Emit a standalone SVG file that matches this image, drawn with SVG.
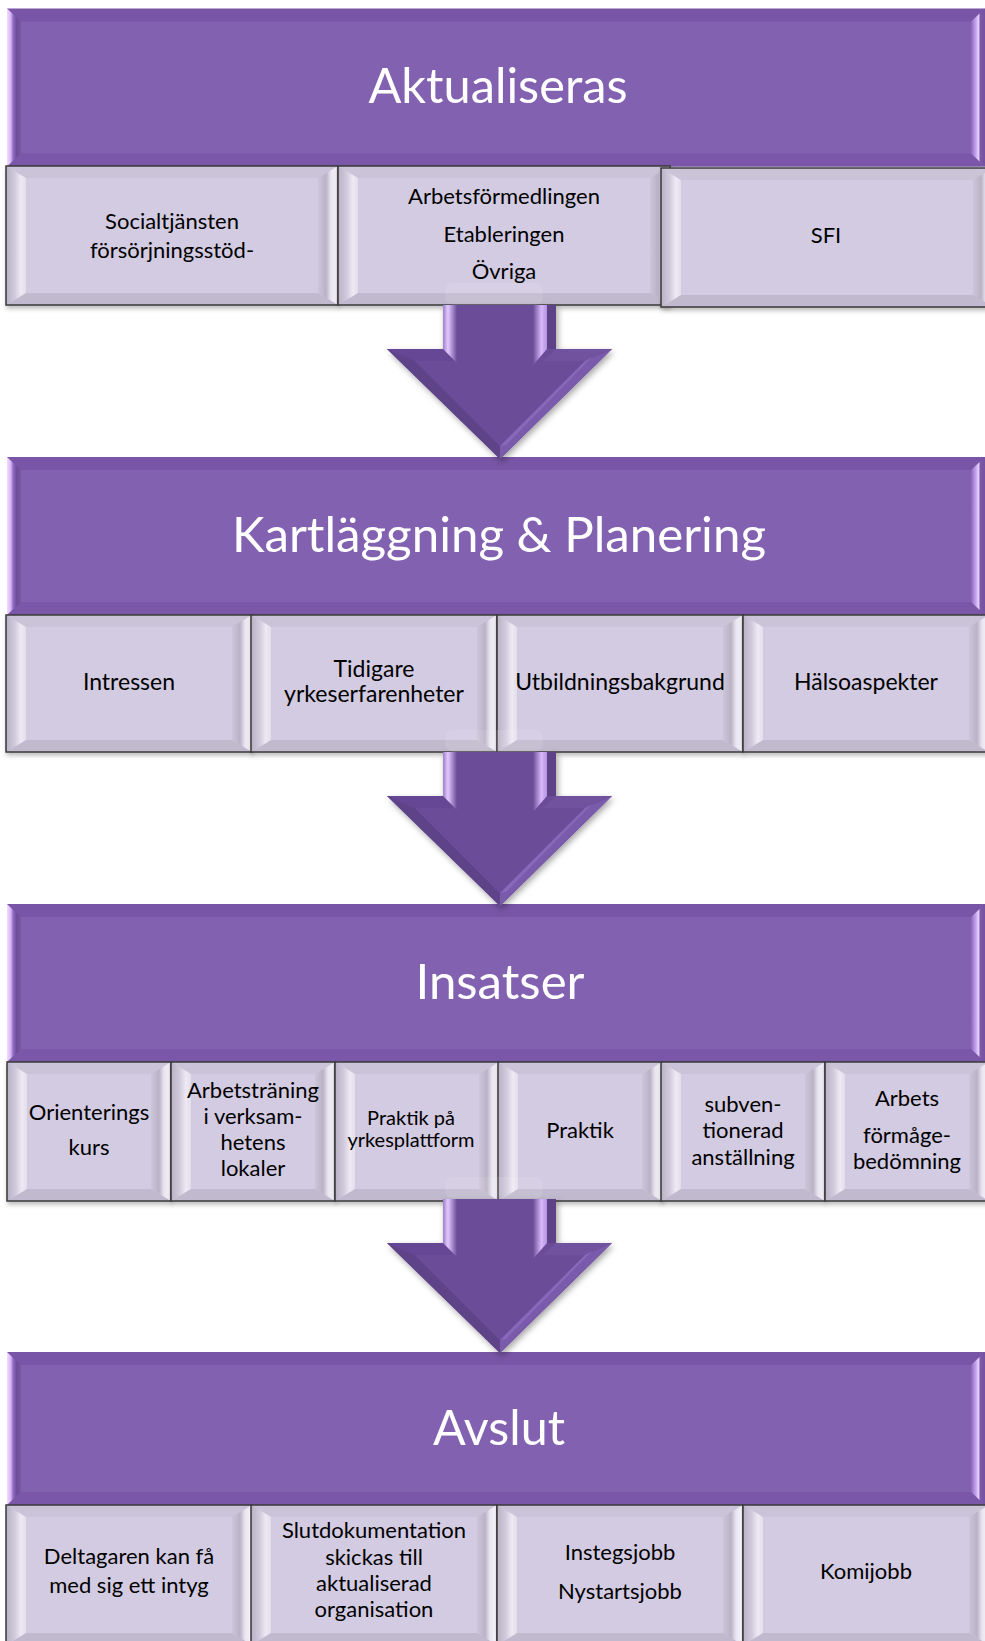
<svg xmlns="http://www.w3.org/2000/svg" xmlns:xlink="http://www.w3.org/1999/xlink" width="985" height="1641" viewBox="0 0 985 1641">
<style>
.hf{fill:#8261b1}.ht{fill:#7855a6}.hb{fill:#7a57a8}.hl{fill:url(#hlg)}.hr{fill:url(#hrg)}
.bt{fill:#cbc3d7}.bb{fill:#c1b9cd}.bl{fill:url(#blg)}.br{fill:url(#brg)}.bf{fill:#d3cbe1}
.bo{fill:none;stroke:#3a3a3a;stroke-width:1.5}
.t{font-family:Lato,"Open Sans",sans-serif;font-size:22px;fill:#000;text-anchor:middle}
.s2{font-size:23px}.sm{font-size:20px}
.title{font-family:Lato,"Open Sans",sans-serif;font-size:48px;fill:#fff;text-anchor:middle}
</style>
<defs>
<linearGradient id="hlg" x1="0" y1="0" x2="1" y2="0">
<stop offset="0" stop-color="#f4dcff"/><stop offset="0.25" stop-color="#d8b8fa"/><stop offset="0.45" stop-color="#8f6cbf"/><stop offset="0.7" stop-color="#6c4c98"/><stop offset="1" stop-color="#7a58a8"/>
</linearGradient>
<linearGradient id="hrg" x1="0" y1="0" x2="1" y2="0">
<stop offset="0" stop-color="#8a68b8"/><stop offset="0.35" stop-color="#c6a4f2"/><stop offset="0.55" stop-color="#ead2ff"/><stop offset="0.65" stop-color="#7c5aa9"/><stop offset="1" stop-color="#7452a1"/>
</linearGradient>
<linearGradient id="blg" x1="0" y1="0" x2="1" y2="0">
<stop offset="0" stop-color="#b9b1c5"/><stop offset="0.45" stop-color="#d2cbdd"/><stop offset="0.75" stop-color="#eeeaf4"/><stop offset="1" stop-color="#e2ddea"/>
</linearGradient>
<linearGradient id="brg" x1="0" y1="0" x2="1" y2="0">
<stop offset="0" stop-color="#cdc5d8"/><stop offset="0.4" stop-color="#bab2c6"/><stop offset="0.65" stop-color="#e9e5f0"/><stop offset="0.9" stop-color="#f3f0f7"/><stop offset="1" stop-color="#c9c1d4"/>
</linearGradient>
<linearGradient id="alg" x1="0" y1="0" x2="1" y2="0">
<stop offset="0" stop-color="#9d7ec8"/><stop offset="0.35" stop-color="#e2caff"/><stop offset="1" stop-color="#6b4c99"/>
</linearGradient>
<linearGradient id="arg" x1="0" y1="0" x2="1" y2="0">
<stop offset="0" stop-color="#6b4c99"/><stop offset="0.6" stop-color="#d6b8fb"/><stop offset="1" stop-color="#b394e0"/>
</linearGradient>
<filter id="sh" x="-5%" y="-10%" width="110%" height="130%">
<feDropShadow dx="1" dy="3" stdDeviation="2" flood-color="#000" flood-opacity="0.25"/>
</filter>
<filter id="ash" x="-10%" y="-10%" width="125%" height="125%">
<feDropShadow dx="2" dy="3" stdDeviation="3" flood-color="#000" flood-opacity="0.35"/>
</filter>
<g id="hdr">
<rect x="0" y="0" width="978" height="158" class="ht"/>
<polygon points="0,158 978,158 964,145 14,145" class="hb"/>
<polygon points="0,0 14,13 14,145 0,158" class="hl"/>
<polygon points="978,0 964,13 964,145 978,158" class="hr"/>
<rect x="14" y="13" width="950" height="132" class="hf"/>
</g>
<g id="hdr4">
<rect x="0" y="0" width="978" height="153" class="ht"/>
<polygon points="0,153 978,153 964,140 14,140" class="hb"/>
<polygon points="0,0 14,13 14,140 0,153" class="hl"/>
<polygon points="978,0 964,13 964,140 978,153" class="hr"/>
<rect x="14" y="13" width="950" height="127" class="hf"/>
</g>
<g id="boxA">
<rect x="0" y="0" width="332" height="139" class="bt"/>
<polygon points="0,139 332,139 312,127 20,127" class="bb"/>
<polygon points="0,0 20,12 20,127 0,139" class="bl"/>
<polygon points="332,0 312,12 312,127 332,139" class="br"/>
<rect x="20" y="12" width="292" height="115" class="bf"/>
<rect x="0" y="0" width="332" height="139" class="bo"/>
</g>
<g id="boxB">
<rect x="0" y="0" width="246" height="137" class="bt"/>
<polygon points="0,137 246,137 226,125 20,125" class="bb"/>
<polygon points="0,0 20,12 20,125 0,137" class="bl"/>
<polygon points="246,0 226,12 226,125 246,137" class="br"/>
<rect x="20" y="12" width="206" height="113" class="bf"/>
<rect x="0" y="0" width="246" height="137" class="bo"/>
</g>
<g id="boxC">
<rect x="0" y="0" width="164" height="139" class="bt"/>
<polygon points="0,139 164,139 144,127 20,127" class="bb"/>
<polygon points="0,0 20,12 20,127 0,139" class="bl"/>
<polygon points="164,0 144,12 144,127 164,139" class="br"/>
<rect x="20" y="12" width="124" height="115" class="bf"/>
<rect x="0" y="0" width="164" height="139" class="bo"/>
</g>
<g id="boxD">
<rect x="0" y="0" width="246" height="140" class="bt"/>
<polygon points="0,140 246,140 226,128 20,128" class="bb"/>
<polygon points="0,0 20,12 20,128 0,140" class="bl"/>
<polygon points="246,0 226,12 226,128 246,140" class="br"/>
<rect x="20" y="12" width="206" height="116" class="bf"/>
<rect x="0" y="0" width="246" height="140" class="bo"/>
</g>
<g id="arrow">
<rect x="445" y="-22" width="98" height="22" rx="8" fill="#ffffff" opacity="0.1"/>
<polygon points="443,0 556,0 556,44 612,44 500,154 387,44 443,44" fill="#6a4b97" filter="url(#ash)"/>
<polygon points="387,44 415,56 500,141 500,154" fill="#5e4389"/>
<polygon points="612,44 585,56 500,141 500,154" fill="#7a5bab"/>
<polygon points="387,44 443,44 453,56 415,56" fill="#654795"/>
<polygon points="556,44 612,44 585,56 543,56" fill="#71529f"/>
<polygon points="453,0 543,0 543,56 585,56 500,141 415,56 453,56" fill="#6b4c99"/>
<polygon points="443,0 457,0 457,58 443,44" fill="url(#alg)"/>
<polygon points="533,0 547,0 547,44 533,60" fill="url(#arg)"/>
<rect x="547" y="0" width="9" height="44" fill="#5d4288"/>
<polygon points="585,56 592,52 506,140 500,141" fill="#8d6dc0" opacity="0.7"/>
</g>
</defs>

<g id="stage1">
<g id="header-aktualiseras">
<use href="#hdr" x="7" y="8.5"/>
<text class="title" x="498" y="103" textLength="259" lengthAdjust="spacingAndGlyphs">Aktualiseras</text>
</g>
<g id="node-socialtjansten">
<use href="#boxA" x="6" y="166" filter="url(#sh)"/>
<text class="t" x="172" y="229">Socialtjänsten</text>
<text class="t" x="172" y="258">försörjningsstöd-</text>
</g>
<g id="node-arbetsformedlingen">
<use href="#boxA" x="338" y="166" filter="url(#sh)"/>
<text class="t" x="504" y="204">Arbetsförmedlingen</text>
<text class="t" x="504" y="242">Etableringen</text>
<text class="t" x="504" y="279">Övriga</text>
</g>
<g id="node-sfi">
<use href="#boxA" x="661" y="168" filter="url(#sh)"/>
<text class="t" x="826" y="243">SFI</text>
</g>
</g>

<g id="stage2">
<g id="header-kartlaggning">
<use href="#hdr" x="7" y="457"/>
<text class="title" x="499" y="552" textLength="534" lengthAdjust="spacingAndGlyphs">Kartläggning &amp; Planering</text>
</g>
<g id="node-intressen">
<use href="#boxB" x="6" y="615" filter="url(#sh)"/>
<text class="t s2" x="129" y="690">Intressen</text>
</g>
<g id="node-tidigare">
<use href="#boxB" x="251" y="615" filter="url(#sh)"/>
<text class="t s2" x="374" y="677">Tidigare</text>
<text class="t s2" x="374" y="702">yrkeserfarenheter</text>
</g>
<g id="node-utbildning">
<use href="#boxB" x="497" y="615" filter="url(#sh)"/>
<text class="t s2" x="620" y="690">Utbildningsbakgrund</text>
</g>
<g id="node-halsa">
<use href="#boxB" x="743" y="615" filter="url(#sh)"/>
<text class="t s2" x="866" y="690">Hälsoaspekter</text>
</g>
</g>

<g id="stage3">
<g id="header-insatser">
<use href="#hdr" x="7" y="904"/>
<text class="title" x="500" y="999" textLength="169" lengthAdjust="spacingAndGlyphs">Insatser</text>
</g>
<g id="node-orientering">
<use href="#boxC" x="7" y="1062" filter="url(#sh)"/>
<text class="t" x="89" y="1120">Orienterings</text>
<text class="t" x="89" y="1155">kurs</text>
</g>
<g id="node-arbetstraning">
<use href="#boxC" x="171" y="1062" filter="url(#sh)"/>
<text class="t" x="253" y="1098">Arbetsträning</text>
<text class="t" x="253" y="1124">i verksam-</text>
<text class="t" x="253" y="1150">hetens</text>
<text class="t" x="253" y="1176">lokaler</text>
</g>
<g id="node-praktik-yrke">
<use href="#boxC" x="335" y="1062" filter="url(#sh)"/>
<text class="t sm" x="411" y="1125">Praktik på</text>
<text class="t sm" x="411" y="1147">yrkesplattform</text>
</g>
<g id="node-praktik">
<use href="#boxC" x="498" y="1062" filter="url(#sh)"/>
<text class="t" x="580" y="1138">Praktik</text>
</g>
<g id="node-subventionerad">
<use href="#boxC" x="661" y="1062" filter="url(#sh)"/>
<text class="t" x="743" y="1112">subven-</text>
<text class="t" x="743" y="1138">tionerad</text>
<text class="t" x="743" y="1165">anställning</text>
</g>
<g id="node-arbetsformaga">
<use href="#boxC" x="825" y="1062" filter="url(#sh)"/>
<text class="t" x="907" y="1106">Arbets</text>
<text class="t" x="907" y="1143">förmåge-</text>
<text class="t" x="907" y="1169">bedömning</text>
</g>
</g>

<g id="stage4">
<g id="header-avslut">
<use href="#hdr4" x="7" y="1352"/>
<text class="title" x="499" y="1445" textLength="132" lengthAdjust="spacingAndGlyphs">Avslut</text>
</g>
<g id="node-intyg">
<use href="#boxD" x="6" y="1505"/>
<text class="t" x="129" y="1564">Deltagaren kan få</text>
<text class="t" x="129" y="1593">med sig ett intyg</text>
</g>
<g id="node-slutdok">
<use href="#boxD" x="251" y="1505"/>
<text class="t" x="374" y="1538">Slutdokumentation</text>
<text class="t" x="374" y="1565">skickas till</text>
<text class="t" x="374" y="1591">aktualiserad</text>
<text class="t" x="374" y="1617">organisation</text>
</g>
<g id="node-instegsjobb">
<use href="#boxD" x="497" y="1505"/>
<text class="t" x="620" y="1560">Instegsjobb</text>
<text class="t" x="620" y="1599">Nystartsjobb</text>
</g>
<g id="node-komijobb">
<use href="#boxD" x="743" y="1505"/>
<text class="t" x="866" y="1579">Komijobb</text>
</g>
</g>

<g id="connectors">
<use href="#arrow" x="0" y="305"/>
<use href="#arrow" x="0" y="752"/>
<use href="#arrow" x="0" y="1199"/>
</g>
</svg>
